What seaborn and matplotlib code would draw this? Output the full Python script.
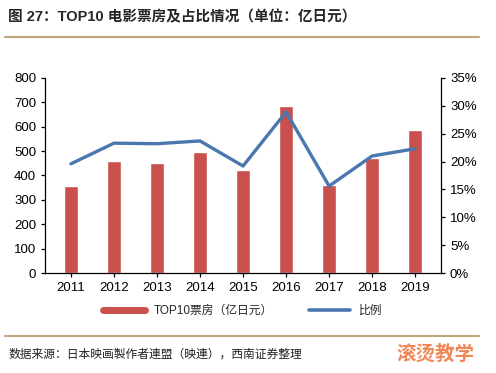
import pandas as pd
import matplotlib.pyplot as plt
import seaborn as sns
from matplotlib.lines import Line2D

# data
years = ["2011", "2012", "2013", "2014", "2015", "2016", "2017", "2018", "2019"]
box_office = [355, 458, 452, 495, 422, 685, 362, 472, 586]
share_pct = [19.6, 23.3, 23.2, 23.7, 19.2, 28.9, 15.6, 21.0, 22.3]

sns.set_style("white")
plt.rcParams["font.family"] = ["Liberation Sans", "Noto Sans CJK SC", "DejaVu Sans"]

df = pd.DataFrame({"year": years, "box": box_office, "share": share_pct})
df["pos"] = range(len(df))

fig = plt.figure(figsize=(4.96, 3.73), dpi=100)
ax = fig.add_axes([0.091, 0.268, 0.798, 0.523])

bar_color = "#C9504D"
line_color = "#4A78AE"

sns.barplot(data=df, x="year", y="box", color=bar_color, width=0.34,
            saturation=1, ax=ax)
ax.set_ylim(0, 800)
ax.set_yticks(range(0, 801, 100))
ax.set_xlim(-0.6, 8.6)
ax.set_xlabel("")
ax.set_ylabel("")

ax2 = ax.twinx()
sns.lineplot(data=df, x="pos", y="share", color=line_color, linewidth=2.4, ax=ax2)
ax2.set_ylim(0, 35)
ax2.set_yticks(range(0, 36, 5))
ax2.set_yticklabels([f"{v}%" for v in range(0, 36, 5)])
ax2.set_xlim(-0.6, 8.6)
ax2.set_ylabel("")
ax2.set_xlabel("")

for a in (ax, ax2):
    a.spines["top"].set_visible(False)
    for s in a.spines.values():
        s.set_color("black")
        s.set_linewidth(0.9)
    a.tick_params(labelsize=9.5, length=3, width=0.9, colors="black", direction="out")
ax.spines["right"].set_visible(False)
ax2.spines["left"].set_visible(False)
ax2.spines["bottom"].set_visible(False)
ax.tick_params(axis="y", left=True)
ax.tick_params(axis="x", bottom=True, length=3)
ax2.tick_params(axis="y", right=True)

handles = [Line2D([0], [0], color=bar_color, lw=5),
           Line2D([0], [0], color=line_color, lw=2.6)]
fig.legend(handles, ["TOP10票房（亿日元）", "比例"], loc="center",
           bbox_to_anchor=(0.49, 0.166), ncol=2, frameon=False, fontsize=8.5,
           handlelength=3.5, columnspacing=3)

# title and rules
fig.text(0.016, 0.955, "图 27：TOP10 电影票房及占比情况（单位：亿日元）",
         fontsize=10.5, fontweight="bold", va="center")
fig.add_artist(Line2D([0.01, 0.965], [0.9, 0.9], color="#BFA678", lw=1.5))
fig.add_artist(Line2D([0.01, 0.965], [0.098, 0.098], color="#BFA678", lw=1.5))
fig.text(0.018, 0.05, "数据来源：日本映画製作者連盟（映連），西南证券整理",
         fontsize=8.5, style="italic", va="center", color="#222222")
fig.text(0.80, 0.05, "滚烫教学", fontsize=14, fontweight="bold",
         color="#F07A45", va="center", alpha=0.9)

fig.savefig("out.png", dpi=100)
